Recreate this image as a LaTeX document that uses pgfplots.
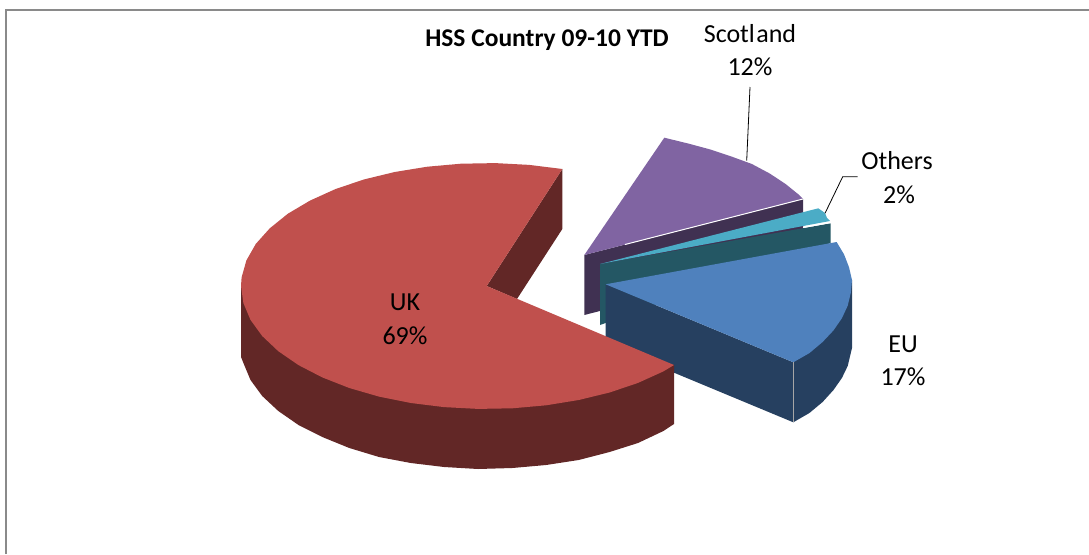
\documentclass[border=0pt]{standalone}
\usepackage{pgfplots}
\pgfplotsset{compat=1.18}
\usepackage{fontspec}
\setmainfont{Carlito}
\definecolor{ukTop}{HTML}{C0504D}
\definecolor{ukSide}{HTML}{622726}
\definecolor{scTop}{HTML}{8064A2}
\definecolor{scSide}{HTML}{403152}
\definecolor{otTop}{HTML}{4BACC6}
\definecolor{otSide}{HTML}{245764}
\definecolor{euTop}{HTML}{4F81BD}
\definecolor{euSide}{HTML}{264060}
\definecolor{frameGray}{HTML}{8A8A8A}
\begin{document}
\begin{tikzpicture}[x=1pt,y=1pt]
\path[use as bounding box] (0,0) rectangle (1089,554);
\begin{axis}[
  at={(0,0)},anchor=south west,
  scale only axis,width=1089pt,height=554pt,
  xmin=0,xmax=1089,ymin=0,ymax=554,y dir=reverse,
  axis lines=none,clip=true]
% chart frame
\addplot[frameGray,line width=1.6pt] coordinates {(6,554) (6,10) (1089,10)};
% Scotland wedge
\addplot[fill=scSide,draw=none] coordinates {(584.3,255) (803,199) (803,259) (584.3,315)} --cycle;
\addplot[fill=scTop,draw=none] coordinates {(584.3,255) (664.3,137.7) (688.1,143.5) (710.8,149.6) (732.2,156.8) (751.9,164) (769.7,173.5) (785.6,184) (799.2,195) (803,199)} --cycle;
\addplot[white,line width=1pt] coordinates {(625,244.5) (803,199)};
% Others wedge
\addplot[fill=otSide,draw=none] coordinates {(600,264) (830.7,223.3) (830.7,243) (600,325)} --cycle;
\addplot[fill=otTop,draw=none] coordinates {(600,264) (818.3,208.3) (825,213) (827,218) (830,221)} --cycle;
\addplot[white,line width=1pt] coordinates {(803,227.5) (830.7,222.5)};
% EU wedge
\addplot[fill=euSide,draw=none] coordinates {(605.7,284.3) (793.3,362.3) (793.3,422.3) (605.7,344.3)} --cycle;
\addplot[fill=euSide,draw=none] coordinates {(793.3,362.3) (852,280) (852,348) (847.7,366) (841.9,378) (833.5,390) (822.6,402) (809.4,413) (793.3,422.3)} --cycle;
\addplot[fill=euTop,draw=none] coordinates {(605.7,284.3) (836.6,242) (844.1,254.5) (849,267.2) (852,280) (850.8,292.9) (847.7,305.7) (841.9,318.2) (833.5,330.4) (822.6,342) (809.4,353.1) (793.3,362.3)} --cycle;
\addplot[gray!70!white,line width=0.5pt] coordinates {(793.3,362.3) (793.3,422.3)};
% UK wedge
\addplot[fill=ukSide,draw=none] coordinates {(486.7,286) (562.3,169) (562.3,229) (517,299)} --cycle;
\addplot[fill=ukSide,draw=none] coordinates {(241,283) (241,357) (243.4,363) (250.5,380) (262.2,396) (278.3,411) (298.5,425) (322.3,437) (349.3,448) (379,457) (410.8,463) (444,467) (478.1,469) (512.4,468) (546.1,465) (578.7,460) (609.6,452) (638,443) (663.4,431) (674,424) (674,365)} --cycle;
\addplot[fill=ukTop,draw=none] coordinates {(486.7,286) (562.3,169) (529.4,164.9) (495.3,163.1) (461,163.7) (427.3,166.7) (394.7,172) (363.8,179.5) (335.4,189.1) (310,200.6) (287.9,213.7) (269.8,228.3) (255.8,243.9) (246.4,260.4) (241.6,277.4) (241,286) (243.4,303.1) (250.5,319.9) (262.2,336) (278.3,351.2) (298.5,365.1) (322.3,377.4) (349.3,388) (379,396.6) (410.8,403) (444,407.1) (478.1,408.9) (512.4,408.3) (546.1,405.3) (578.7,400) (609.6,392.5) (638,382.9) (663.4,371.4) (674,365)} --cycle;
% leader lines
\addplot[black,line width=0.8pt] coordinates {(750,87) (746.7,160.7)};
\addplot[black,line width=0.8pt] coordinates {(825,213.3) (842.7,176.7) (857.7,176.7)};
% title and data labels
\node[font=\bfseries\fontsize{25.5}{28}\selectfont] at (axis cs:547,40) {HSS Country 09-10 YTD};
\node[font=\fontsize{26}{29}\selectfont] at (axis cs:750,34) {Scotl\kern1.5pt and};
\node[font=\fontsize{26}{29}\selectfont] at (axis cs:750,67) {12\%};
\node[font=\fontsize{26}{29}\selectfont] at (axis cs:897,161) {Others};
\node[font=\fontsize{26}{29}\selectfont] at (axis cs:899,195) {2\%};
\node[font=\fontsize{26}{29}\selectfont] at (axis cs:405,302) {UK};
\node[font=\fontsize{26}{29}\selectfont] at (axis cs:405,336) {69\%};
\node[font=\fontsize{26}{29}\selectfont] at (axis cs:903,344) {EU};
\node[font=\fontsize{26}{29}\selectfont] at (axis cs:903,377) {17\%};
\end{axis}
\end{tikzpicture}
\end{document}
